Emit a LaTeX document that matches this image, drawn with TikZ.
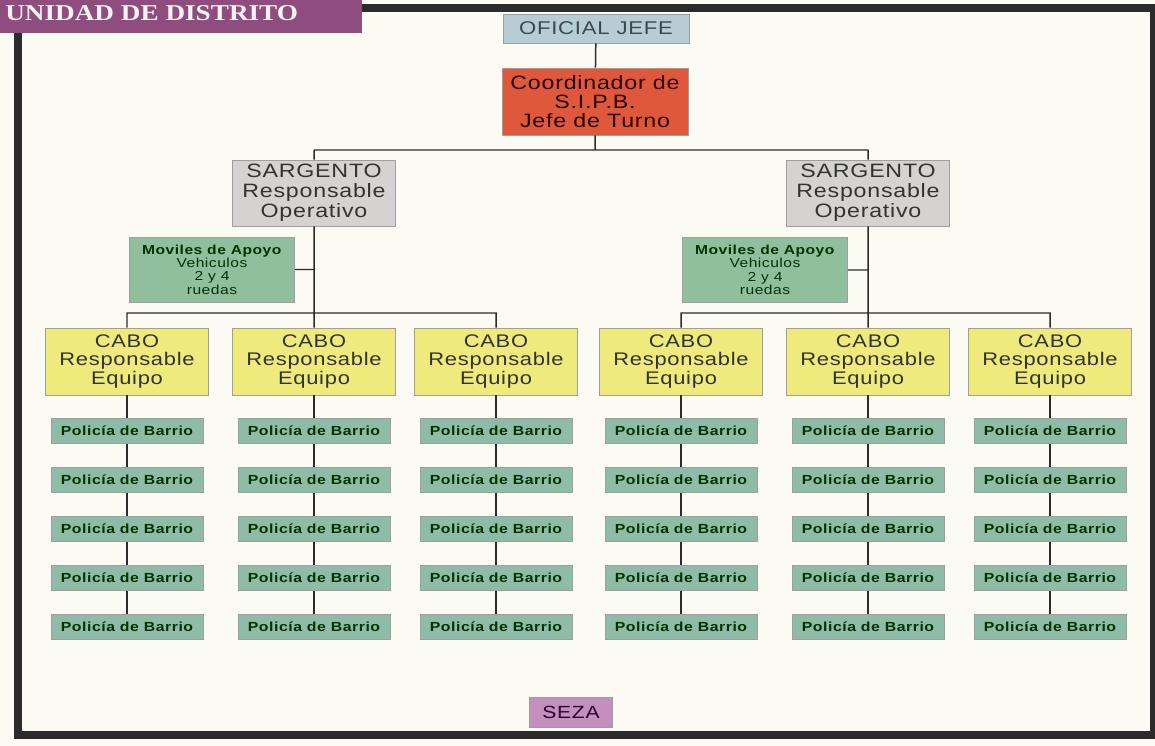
\documentclass[tikz,border=0pt]{standalone}
\usepackage{fontspec}
\newfontfamily\boxfont[FakeStretch=1.2,LetterSpace=4]{Liberation Sans}
\newfontfamily\bannerfont[FakeStretch=1.2]{Liberation Serif}
\definecolor{paper}{HTML}{FBFAF3}
\definecolor{banner}{HTML}{8E4D7C}
\definecolor{jefeblue}{HTML}{B7CDD6}
\definecolor{coordred}{HTML}{E0583B}
\definecolor{sgtgray}{HTML}{D4D3D2}
\definecolor{movgreen}{HTML}{8FBF9C}
\definecolor{caboyellow}{HTML}{EFEA7C}
\definecolor{polgreen}{HTML}{8FBCA7}
\definecolor{sezapink}{HTML}{C48EBF}
\definecolor{ink}{HTML}{2B2B2B}

\begin{document}
\begin{tikzpicture}[x=0.2mm,y=-0.2mm,
    box/.style={draw=gray!75, line width=0.4pt, inner sep=0pt, align=center},
    jefebox/.style={box, fill=jefeblue, text=black!80!cyan, minimum width=37.2mm, minimum height=5.8mm, font={\boxfont\fontsize{10.5}{10.5}\selectfont}},
    coordbox/.style={box, fill=coordred, text=black!85!red, minimum width=37.2mm, minimum height=13.4mm, font={\boxfont\fontsize{11}{10.6}\selectfont}},
    sgtbox/.style={box, fill=sgtgray, text=black!80, minimum width=32.6mm, minimum height=13.2mm, font={\boxfont\fontsize{11}{11.3}\selectfont}},
    movbox/.style={box, fill=movgreen, text=black!80!green, minimum width=33mm, minimum height=13mm, font={\boxfont\fontsize{7.4}{7.6}\selectfont}},
    cabobox/.style={box, fill=caboyellow, text=black!80, minimum width=32.6mm, minimum height=13.4mm, font={\boxfont\fontsize{10.4}{10.8}\selectfont}},
    polbox/.style={box, fill=polgreen, text=black!80!green, minimum width=30.4mm, minimum height=5mm, font={\boxfont\bfseries\fontsize{7.5}{7.5}\selectfont}},
    line/.style={draw=ink, line width=0.85pt}
]
\useasboundingbox[fill=paper] (0,0) rectangle (1155,746);

% frame and title
\fill[banner] (-10,-10) rectangle (362,33);
\node[text=white!92!banner, anchor=base west, inner sep=0pt, font={\bannerfont\bfseries\fontsize{12.9}{13}\selectfont}] (title) at (5,21) {UNIDAD DE DISTRITO};
\draw[ink, line width=4pt] (18,33) -- (18,735) -- (1153,735) -- (1153,8) -- (362,8);

% top
\node[jefebox] (jefe) at (596,28.5) {OFICIAL JEFE};
\node[coordbox] (coord) at (595,101.5) {Coordinador de\\S.I.P.B.\\Jefe de Turno};
\node[sgtbox] (sl) at (314,193) {SARGENTO\\Responsable\\Operativo};
\node[sgtbox] (sr) at (868,193) {SARGENTO\\Responsable\\Operativo};
\node[movbox] (ml) at (212,269.5) {\textbf{Moviles de Apoyo}\\Vehiculos\\2 y 4\\ruedas};
\node[movbox] (mr) at (765,270) {\textbf{Moviles de Apoyo}\\Vehiculos\\2 y 4\\ruedas};
\coordinate (bl) at (314,150);
\coordinate (br) at (868,150);
\coordinate (kl) at (314,313);
\coordinate (kr) at (868,313);

% cabos
\node[cabobox] (c1) at (127,361.5) {CABO\\Responsable\\Equipo};
\node[cabobox] (c2) at (314,361.5) {CABO\\Responsable\\Equipo};
\node[cabobox] (c3) at (496,361.5) {CABO\\Responsable\\Equipo};
\node[cabobox] (c4) at (681,361.5) {CABO\\Responsable\\Equipo};
\node[cabobox] (c5) at (868,361.5) {CABO\\Responsable\\Equipo};
\node[cabobox] (c6) at (1050,361.5) {CABO\\Responsable\\Equipo};

% policias
\node[polbox] (p11) at (127,431) {Policía de Barrio};
\node[polbox] (p12) at (127,480) {Policía de Barrio};
\node[polbox] (p13) at (127,529) {Policía de Barrio};
\node[polbox] (p14) at (127,578) {Policía de Barrio};
\node[polbox] (p15) at (127,627) {Policía de Barrio};
\node[polbox] (p21) at (314,431) {Policía de Barrio};
\node[polbox] (p22) at (314,480) {Policía de Barrio};
\node[polbox] (p23) at (314,529) {Policía de Barrio};
\node[polbox] (p24) at (314,578) {Policía de Barrio};
\node[polbox] (p25) at (314,627) {Policía de Barrio};
\node[polbox] (p31) at (496,431) {Policía de Barrio};
\node[polbox] (p32) at (496,480) {Policía de Barrio};
\node[polbox] (p33) at (496,529) {Policía de Barrio};
\node[polbox] (p34) at (496,578) {Policía de Barrio};
\node[polbox] (p35) at (496,627) {Policía de Barrio};
\node[polbox] (p41) at (681,431) {Policía de Barrio};
\node[polbox] (p42) at (681,480) {Policía de Barrio};
\node[polbox] (p43) at (681,529) {Policía de Barrio};
\node[polbox] (p44) at (681,578) {Policía de Barrio};
\node[polbox] (p45) at (681,627) {Policía de Barrio};
\node[polbox] (p51) at (868,431) {Policía de Barrio};
\node[polbox] (p52) at (868,480) {Policía de Barrio};
\node[polbox] (p53) at (868,529) {Policía de Barrio};
\node[polbox] (p54) at (868,578) {Policía de Barrio};
\node[polbox] (p55) at (868,627) {Policía de Barrio};
\node[polbox] (p61) at (1050,431) {Policía de Barrio};
\node[polbox] (p62) at (1050,480) {Policía de Barrio};
\node[polbox] (p63) at (1050,529) {Policía de Barrio};
\node[polbox] (p64) at (1050,578) {Policía de Barrio};
\node[polbox] (p65) at (1050,627) {Policía de Barrio};

\node[box, fill=sezapink, text=black!70!violet, minimum width=16.6mm, minimum height=6mm, font={\boxfont\fontsize{10}{10}\selectfont}] (seza) at (571,712) {SEZA};

% connectors
\draw[line] (jefe) -- (coord) -- (coord |- bl)
    (bl) -- (br)
    (bl) -- (sl) -- (kl)
    (br) -- (sr) -- (kr)
    (ml) -- (ml -| sl)
    (mr) -- (mr -| sr)
    (c1) |- (kl) -| (c3) (kl) -- (c2)
    (c4) |- (kr) -| (c6) (kr) -- (c5);
\draw[line] (c1) -- (p11) -- (p12) -- (p13) -- (p14) -- (p15)
    (c2) -- (p21) -- (p22) -- (p23) -- (p24) -- (p25)
    (c3) -- (p31) -- (p32) -- (p33) -- (p34) -- (p35)
    (c4) -- (p41) -- (p42) -- (p43) -- (p44) -- (p45)
    (c5) -- (p51) -- (p52) -- (p53) -- (p54) -- (p55)
    (c6) -- (p61) -- (p62) -- (p63) -- (p64) -- (p65);
\end{tikzpicture}
\end{document}
